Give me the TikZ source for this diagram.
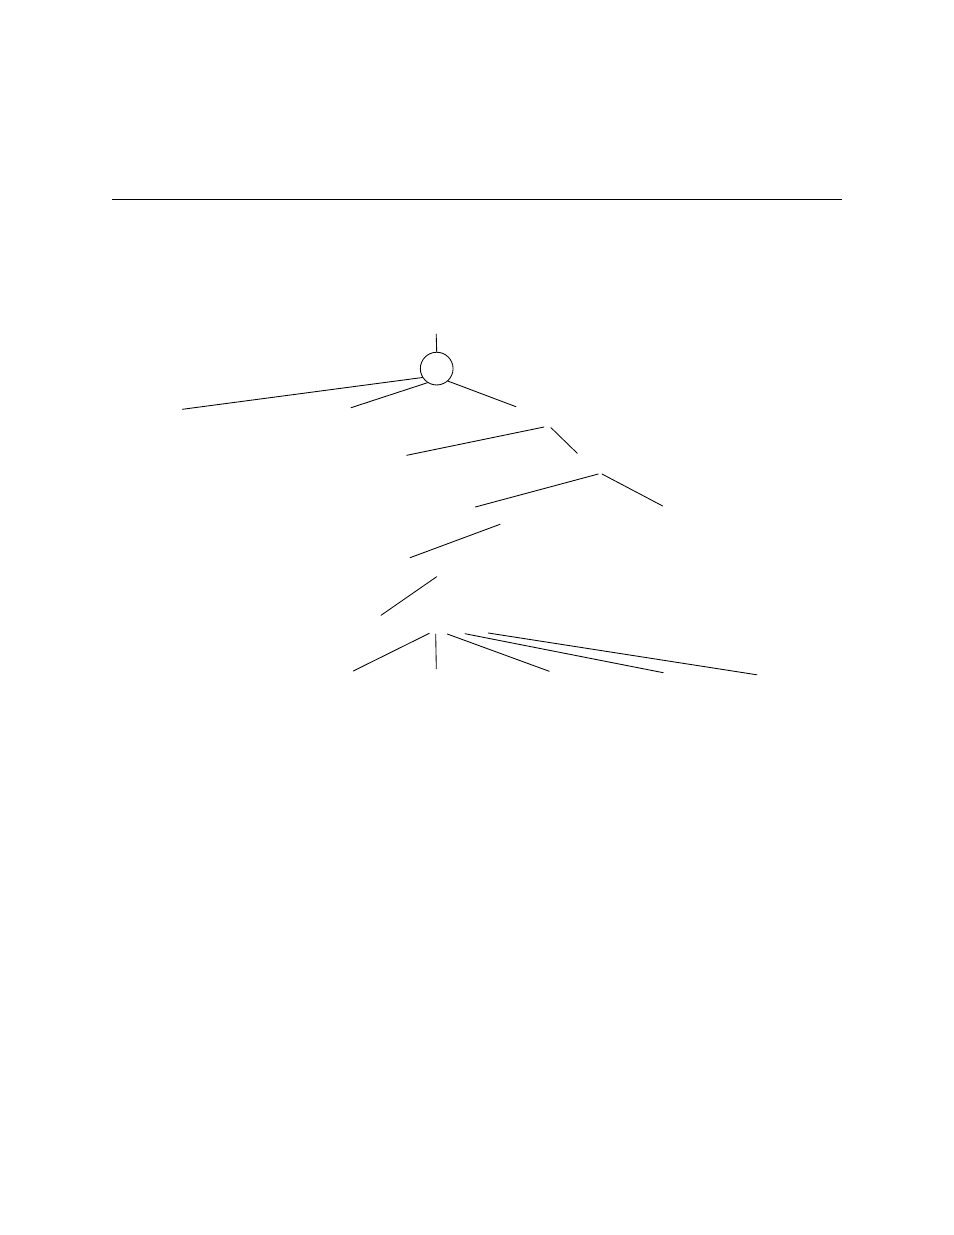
\documentclass[tikz,border=0pt]{standalone}
\usepackage{tikz}
\usetikzlibrary{positioning, calc}

\begin{document}
\begin{tikzpicture}[
            x=0.6415pt, y=-0.6415pt,
            % Styles
            branch/.style={line width=0.55pt, line cap=round},
            rule/.style={line width=0.9pt},
            rootnode/.style={
                circle, draw, line width=0.55pt, minimum size=21pt, inner sep=0pt
            }
        ]
            \useasboundingbox (0,0) rectangle (954,1235);

            % --- Rule ---
            \coordinate (ruleL) at (112,199.3);
            \coordinate (ruleR) at (841.7,199.3);
            \draw[rule] (ruleL) -- (ruleR);

            % --- Nodes ---

            % 1. Root
            \node[rootnode] (root) at (436.7,368.6) {};
            \coordinate (stub) at (436.2,334);

            % 2. First level
            \coordinate (leafA) at (182.3,409.3);
            \coordinate (leafB) at (351,407.7);
            \coordinate (cIn) at (516,406.7);
            \coordinate (cOutL) at (544,427);
            \coordinate (cOutR) at (551,427.7);

            % 3. Second level
            \coordinate (leafC) at (406.7,455.3);
            \coordinate (dIn) at (577.3,453.3);
            \coordinate (dOutL) at (598.3,474);
            \coordinate (dOutR) at (602,474);

            % 4. Third level
            \coordinate (eIn) at (475.3,507);
            \coordinate (leafD) at (662.7,506);
            \coordinate (eOut) at (500,524.3);

            % 5. Chain down
            \coordinate (fIn) at (410,557.7);
            \coordinate (fOut) at (436.7,576.7);
            \coordinate (gIn) at (381,615.3);

            % 6. Bottom fan
            \coordinate (gOut1) at (429.3,633.3);
            \coordinate (gOut2) at (435.7,634);
            \coordinate (gOut3) at (447.3,634);
            \coordinate (gOut4) at (465,633.7);
            \coordinate (gOut5) at (488.3,633);
            \coordinate (leafE) at (353.3,671);
            \coordinate (leafF) at (436.3,668.7);
            \coordinate (leafG) at (549.3,671.3);
            \coordinate (leafH) at (663.3,672.7);
            \coordinate (leafI) at (757,674.8);

            % --- Branches ---
            \draw[branch] (stub) -- (root.north);
            \draw[branch] (root.212) -- (leafA);
            \draw[branch] (root.237) -- (leafB);
            \draw[branch] (root.312) -- (cIn);

            \draw[branch] (cOutL) -- (leafC);
            \draw[branch] (cOutR) -- (dIn);

            \draw[branch] (dOutL) -- (eIn);
            \draw[branch] (dOutR) -- (leafD);

            \draw[branch] (eOut) -- (fIn);
            \draw[branch] (fOut) -- (gIn);

            \draw[branch] (gOut1) -- (leafE);
            \draw[branch] (gOut2) -- (leafF);
            \draw[branch] (gOut3) -- (leafG);
            \draw[branch] (gOut4) -- (leafH);
            \draw[branch] (gOut5) -- (leafI);

        \end{tikzpicture}
\end{document}
